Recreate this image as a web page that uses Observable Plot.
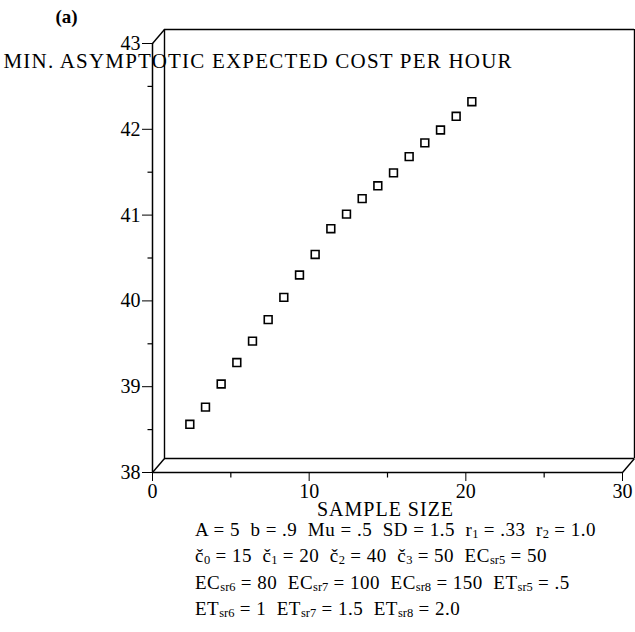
<!DOCTYPE html>
<html>
<head>
<meta charset="utf-8">
<script src="https://cdn.jsdelivr.net/npm/d3@7"></script>
<script src="https://cdn.jsdelivr.net/npm/@observablehq/plot@0.6"></script>
<style>
  html, body { margin: 0; padding: 0; background: white; }
  #wrap { position: relative; width: 635px; height: 632px; overflow: hidden; background: white; }
  #caption { position: absolute; left: 195px; top: 518px; font-family: "Liberation Serif", serif; font-size: 19px; line-height: 23.4px; letter-spacing: 0.5px; color: black; white-space: nowrap; }
  #caption .s { font-size: 12.5px; position: relative; top: 2px; letter-spacing: 0; }
</style>
</head>
<body>
<div id="wrap">
  <div id="chart"></div>
  <div id="caption">
    <div>A = 5&nbsp; b = .9&nbsp; Mu = .5&nbsp; SD = 1.5&nbsp; r<span class="s">1</span> = .33&nbsp; r<span class="s">2</span> = 1.0</div>
    <div>č<span class="s">0</span> = 15&nbsp; č<span class="s">1</span> = 20&nbsp; č<span class="s">2</span> = 40&nbsp; č<span class="s">3</span> = 50&nbsp; EC<span class="s">sr5</span> = 50</div>
    <div>EC<span class="s">sr6</span> = 80&nbsp; EC<span class="s">sr7</span> = 100&nbsp; EC<span class="s">sr8</span> = 150&nbsp; ET<span class="s">sr5</span> = .5</div>
    <div>ET<span class="s">sr6</span> = 1&nbsp; ET<span class="s">sr7</span> = 1.5&nbsp; ET<span class="s">sr8</span> = 2.0</div>
  </div>
</div>
<script>
// ---- data ----
const sampleSize = [2, 3, 4, 5, 6, 7, 8, 9, 10, 11, 12, 13, 14, 15, 16, 17, 18, 19, 20];
const minCost = [38.48, 38.68, 38.95, 39.20, 39.45, 39.70, 39.96, 40.22, 40.46, 40.76, 40.93, 41.11, 41.26, 41.41, 41.60, 41.76, 41.91, 42.07, 42.24];
const xTickValues = [0, 10, 20, 30];
const xMinorTicks = [5, 15, 25];
const yTickValues = [38, 39, 40, 41, 42, 43];
const yMinorTicks = [38.5, 39.5, 40.5, 41.5, 42.5];
const xDomain = [0, 30];
const yDomain = [38, 43];
const titleText = "(a)";
const yLabel = "MIN. ASYMPTOTIC EXPECTED COST PER HOUR";
const xLabel = "SAMPLE SIZE";

// ---- layout ----
const W = 635, H = 530;
const mL = 152, mR = 13, mT = 43, mB = 58;
const depthX = 12, depthY = -14;          // back-plane offset (px)
const xu = (xDomain[1] - xDomain[0]) / (W - mL - mR);   // data units per px
const yu = (yDomain[1] - yDomain[0]) / (H - mT - mB);
const font = "Liberation Serif";

const points = sampleSize.map((x, i) => ({x, y: minCost[i]}));

const corners = [
  {x: xDomain[0], y: yDomain[0]},
  {x: xDomain[0], y: yDomain[1]},
  {x: xDomain[1], y: yDomain[0]}
];

const chart = Plot.plot({
  width: W, height: H,
  marginLeft: mL, marginRight: mR, marginTop: mT, marginBottom: mB,
  style: {fontFamily: font, fontSize: "20px", color: "black", background: "white", overflow: "visible"},
  x: {domain: xDomain, ticks: xTickValues, tickSize: 9, tickPadding: 2, label: null, tickFormat: d => String(d)},
  y: {domain: yDomain, ticks: yTickValues, tickSize: 10, tickPadding: 2, label: null, tickFormat: d => String(d)},
  marks: [
    // back plane
    Plot.ruleX([xDomain[0], xDomain[1]], {y1: yDomain[0], y2: yDomain[1], dx: depthX, dy: depthY, stroke: "black", strokeWidth: 1.4}),
    Plot.ruleY([yDomain[0], yDomain[1]], {x1: xDomain[0], x2: xDomain[1], dx: depthX, dy: depthY, stroke: "black", strokeWidth: 1.4}),
    // depth connectors
    Plot.link(corners, {x1: "x", y1: "y", x2: d => d.x + depthX * xu, y2: d => d.y - depthY * yu, stroke: "black", strokeWidth: 1.4}),
    // front axes
    Plot.ruleX([xDomain[0]], {y1: yDomain[0], y2: yDomain[1], stroke: "black", strokeWidth: 1.5}),
    Plot.ruleY([yDomain[0]], {x1: xDomain[0], x2: xDomain[1], stroke: "black", strokeWidth: 1.5}),
    // minor ticks
    Plot.link(yMinorTicks, {x1: xDomain[0] - 5 * xu, x2: xDomain[0], y1: d => d, y2: d => d, stroke: "black", strokeWidth: 1.2}),
    Plot.link(xMinorTicks, {y1: yDomain[0] - 5 * yu, y2: yDomain[0], x1: d => d, x2: d => d, stroke: "black", strokeWidth: 1.2}),
    // data
    Plot.dot(points, {x: "x", y: "y", symbol: "square", r: 4.4, fill: "white", stroke: "black", strokeWidth: 1.6, dx: depthX / 2, dy: depthY / 2}),
    // labels
    Plot.text([titleText], {frameAnchor: "top-left", dx: 55 - mL, dy: 22 - mT, textAnchor: "start", lineAnchor: "bottom", fontWeight: "bold", fontSize: 19, fill: "black"}),
    Plot.text([yLabel], {frameAnchor: "top-left", dx: 3 - mL, dy: 67 - mT, textAnchor: "start", lineAnchor: "bottom", fontSize: 21, fill: "black"}),
    Plot.text([xLabel], {frameAnchor: "bottom", dx: -2, dy: 515 - (H - mB), lineAnchor: "bottom", fontSize: 20, fill: "black"})
  ]
});
document.getElementById("chart").appendChild(chart);
// letter-spacing for the axis titles
d3.select(chart).selectAll("text").filter(function() { return this.textContent === yLabel; }).style("letter-spacing", "1.2px");
d3.select(chart).selectAll("text").filter(function() { return this.textContent === xLabel; }).style("letter-spacing", "1px");
</script>
</body>
</html>
